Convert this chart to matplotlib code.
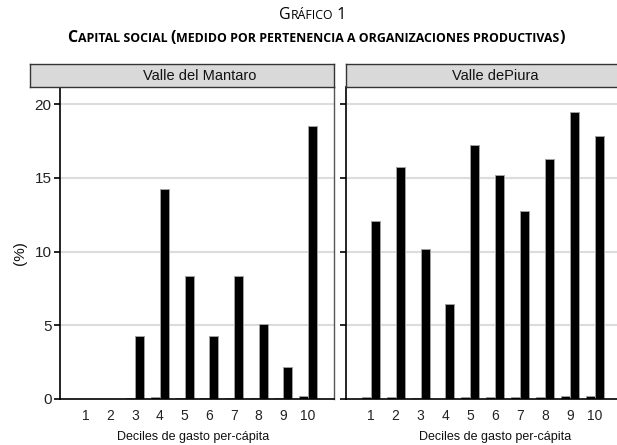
import matplotlib
matplotlib.use("Agg")
import matplotlib.pyplot as plt
from matplotlib.offsetbox import TextArea, HPacker, AnnotationBbox
import numpy as np

plt.rcParams['font.family'] = ['Liberation Sans', 'DejaVu Sans']

deciles = [1, 2, 3, 4, 5, 6, 7, 8, 9, 10]
panels = ["Valle del Mantaro", "Valle dePiura"]
mantaro_no = [0, 0, 0.05, 0.15, 0.05, 0.05, 0.05, 0.05, 0.05, 0.2]
mantaro_si = [0, 0, 4.3, 14.25, 8.35, 4.3, 8.35, 5.1, 2.15, 18.55]
piura_no = [0.12, 0.12, 0.07, 0.03, 0.12, 0.12, 0.12, 0.12, 0.2, 0.2]
piura_si = [12.05, 15.75, 10.2, 6.47, 17.23, 15.23, 12.78, 16.27, 19.45, 17.84]
yticks = [0, 5, 10, 15, 20]
xlabel = "Deciles de gasto per-cápita"
ylabel = "(%)"

W, H = 617, 445
fig = plt.figure(figsize=(W / 100, H / 100), dpi=100)


def px(x0, y_top, w, h):
    return [x0 / W, (H - y_top - h) / H, w / W, h / H]


ax_bottom_px = 399
ax_top_px = 87
ax_h = ax_bottom_px - ax_top_px

axL = fig.add_axes(px(60, ax_top_px, 274, ax_h))
axR = fig.add_axes(px(346, ax_top_px, 274, ax_h))

bw = 0.36
grid_c = '#dcdcdc'
for ax, no, si, xlim in [(axL, mantaro_no, mantaro_si, (-0.054, 11.054)),
                         (axR, piura_no, piura_si, (0.009, 11.0))]:
    x = np.array(deciles, dtype=float)
    ax.bar(x - bw / 2, no, width=bw, color='black', edgecolor='#a0a0a0', linewidth=0.7, zorder=2)
    ax.bar(x + bw / 2, si, width=bw, color='black', edgecolor='#a0a0a0', linewidth=0.7, zorder=2)
    ax.set_xlim(*xlim)
    ax.set_ylim(0, 21.17)
    ax.set_yticks(yticks)
    ax.set_xticks(deciles)
    ax.set_xticklabels([str(d) for d in deciles], fontsize=10, color='#222222')
    ax.tick_params(axis='x', length=0, pad=7)
    ax.tick_params(axis='y', length=4, width=1.2, color='black', pad=2, labelsize=11, labelcolor='#222222')
    for yv in yticks[1:]:
        ax.axhline(yv, color=grid_c, linewidth=1.5, zorder=0)
    ax.spines['top'].set_visible(False)
    ax.spines['left'].set_color('black')
    ax.spines['left'].set_linewidth(1.2)
    ax.spines['bottom'].set_color('black')
    ax.spines['bottom'].set_linewidth(1.2)
    ax.spines['right'].set_color('#555555')
    ax.spines['right'].set_linewidth(1.0)
    ax.set_facecolor('white')

axR.tick_params(axis='y', labelleft=False)

# strips
for (x0, w), name, tx in [((30, 304), panels[0], 200), ((346, 290), panels[1], 495)]:
    sa = fig.add_axes(px(x0, 64, w, 23))
    sa.set_facecolor('#d9d9d9')
    sa.set_xticks([])
    sa.set_yticks([])
    for s in sa.spines.values():
        s.set_color('#333333')
        s.set_linewidth(1.0)
    fig.text(tx / W, (H - 75.5) / H, name, ha='center', va='center', fontsize=10.5, color='#111111')

# axis labels
fig.text(193 / W, (H - 437) / H, xlabel, ha='center', va='center', fontsize=9, color='#111111')
fig.text(495 / W, (H - 437) / H, xlabel, ha='center', va='center', fontsize=9, color='#111111')
fig.text(20 / W, (H - 253) / H, ylabel, ha='center', va='center', rotation=90, fontsize=11, color='#111111')


def smallcaps(parts, xc, yc, weight):
    areas = [TextArea(t, textprops=dict(fontsize=s, fontweight=weight, family='Open Sans', color='black'))
             for t, s in parts]
    box = HPacker(children=areas, align='baseline', pad=0, sep=0)
    ab = AnnotationBbox(box, (xc / W, (H - yc) / H), xycoords='figure fraction',
                        frameon=False, box_alignment=(0.5, 0.5), pad=0)
    fig.add_artist(ab)


smallcaps([("G", 11.5), ("RÁFICO", 8.8), (" 1", 11.5)], 313, 15, 'normal')
smallcaps([("C", 11.5), ("APITAL SOCIAL ", 8.9), ("(", 11.5),
           ("MEDIDO POR PERTENENCIA A ORGANIZACIONES PRODUCTIVAS", 8.9), (")", 11.5)],
          316, 38, 'bold')

fig.savefig("out.png", dpi=100)
